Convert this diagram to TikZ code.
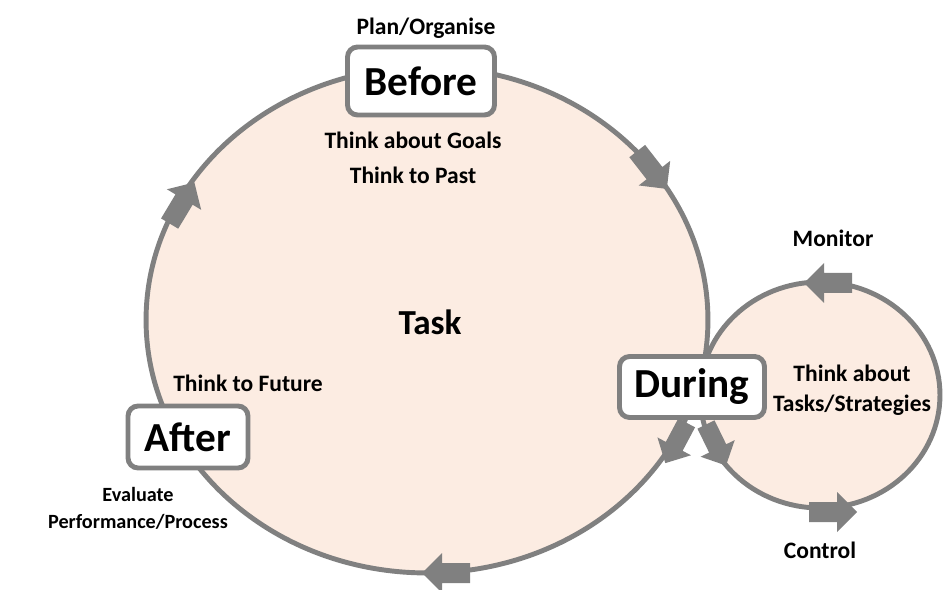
\documentclass[tikz,border=0pt]{standalone}
\usepackage{fontspec}
\setmainfont{Carlito}
\definecolor{taskpink}{RGB}{252,236,226}
\definecolor{ringgray}{RGB}{128,128,128}
\begin{document}
\begin{tikzpicture}
  [
  x=0.02cm, y=0.02cm, line width=2.8pt, font=\bfseries,
  stage/.style={rectangle, rounded corners=0.2cm, draw=ringgray, fill=white, line width=2.8pt, inner sep=0pt, font=\fontsize{23.5}{28}\selectfont\bfseries},
  note/.style={font=\fontsize{13.4}{17}\selectfont\bfseries, align=center, inner sep=0pt},
  blockarrow/.pic={\fill[ringgray] (-24,-10) -- (4,-10) -- (4,-20) -- (24,0) -- (4,20) -- (4,10) -- (-24,10) -- cycle;}
  ]
\useasboundingbox (0,0) rectangle (944,589);

% the two cycles
\fill[taskpink] (427,269) ellipse [x radius=5.62cm, y radius=5.06cm];
\fill[taskpink] (820,194) ellipse [x radius=2.4cm, y radius=2.26cm];
\draw[ringgray] (427,269) ellipse [x radius=5.62cm, y radius=5.06cm];
\draw[ringgray] (820,194) ellipse [x radius=2.4cm, y radius=2.26cm];

\foreach \ax/\ay/\ang in {652/419/-52, 182/386/59, 446/16/180, 828/306/180, 833/77/0} {
  \pic[rotate=\ang] at (\ax,\ay) {blockarrow};
}
\pic[rotate=-118, scale=0.95] at (676,146) {blockarrow};
\pic[rotate=-64, scale=0.95] at (716,144) {blockarrow};

\node[stage, minimum width=2.94cm, minimum height=1.36cm] (before) at (421,508) {Before};
\node[stage, minimum width=2.9cm, minimum height=1.22cm] (during) at (692,202) {During};
\node[stage, minimum width=2.4cm, minimum height=1.24cm] (after) at (188,152) {After};

\node[note] (plan) at (426,561) {Plan/Organise};
\node[note] (goals) at (413,449) {Think about Goals};
\node[note] (past) at (413,414) {Think to Past};
\node[font=\fontsize{20}{24}\selectfont\bfseries] (task) at (430,267) {Task};
\node[note] (future) at (248,206) {Think to Future};
\node[note, font=\fontsize{11.5}{15.5}\selectfont\bfseries] (evaluate) at (138,81) {Evaluate\\Performance/Process};
\node[note] (monitor) at (833,351) {Monitor};
\node[note] (strategies) at (852,199) {Think about\\Tasks/Strategies};
\node[note] (control) at (820,39) {Control};

\end{tikzpicture}
\end{document}
